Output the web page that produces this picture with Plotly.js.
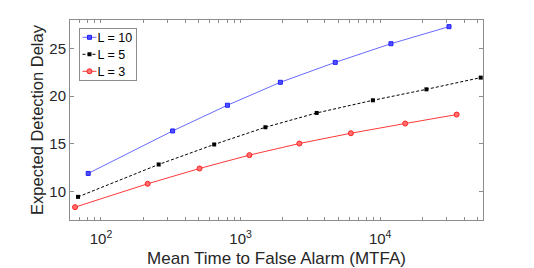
<!DOCTYPE html>
<html><head><meta charset="utf-8">
<script src="https://cdn.plot.ly/plotly-3.0.1.min.js"></script>
<style>html,body{margin:0;padding:0;background:#fff}#chart{width:534px;height:268px}</style>
</head><body><div id="chart"></div>
<script>
const seriesNames = ["L = 10", "L = 5", "L = 3"];
const mtfaL10 = [81, 326, 805, 1928, 4764, 11940, 31100];
const eddL10 = [11.89, 16.35, 19.05, 21.46, 23.55, 25.51, 27.30];
const mtfaL5 = [68.5, 259, 647, 1506, 3508, 8870, 21430, 52500];
const eddL5 = [9.43, 12.83, 14.93, 16.74, 18.24, 19.57, 20.72, 21.95];
const mtfaL3 = [65.2, 216, 508, 1156, 2636, 6166, 15100, 35300];
const eddL3 = [8.35, 10.80, 12.41, 13.81, 15.03, 16.11, 17.13, 18.07];
const yTickVals = [10, 15, 20, 25];
const decadeExps = [1, 2, 3, 4];
const tickSteps = [1, 2, 3, 4, 5, 6, 7, 8, 9];
const xTickVals = [];
const xTickText = [];
decadeExps.forEach(e => tickSteps.forEach(m => {
  xTickVals.push(m * Math.pow(10, e));
  xTickText.push(m === 1 ? "10<sup>" + e + "</sup>" : "");
}));

const font = "Liberation Sans, Arial, Helvetica, sans-serif";
const xRange = [Math.log10(60), Math.log10(54500)];
const traces = [
  {x: mtfaL10, y: eddL10, name: seriesNames[0], mode: "lines+markers",
   line: {color: "#6a6aff", width: 1}, marker: {symbol: "square", size: 4, color: "#5050ff", line: {width: 1, color: "#2020ff"}}},
  {x: mtfaL5, y: eddL5, name: seriesNames[1], mode: "lines+markers",
   line: {color: "#000000", width: 1, dash: "3px,2px"}, marker: {symbol: "square", size: 4, color: "#000000"}},
  {x: mtfaL3, y: eddL3, name: seriesNames[2], mode: "lines+markers",
   line: {color: "#ff3a3a", width: 1}, marker: {symbol: "circle", size: 5, color: "#ff7070", line: {width: 1, color: "#ff2020"}}}
];
const axisCommon = {
  showgrid: false, zeroline: false, showline: true, linecolor: "#8c8c8c", linewidth: 1,
  mirror: "allticks", ticks: "inside", ticklen: 4, tickcolor: "#8c8c8c",
  tickfont: {family: font, size: 15, color: "#262626"}
};
const layout = {
  width: 534, height: 268,
  margin: {l: 69.5, r: 51, t: 19.5, b: 48},
  paper_bgcolor: "#fff", plot_bgcolor: "#fff",
  showlegend: true,
  legend: {x: 0.023, y: 0.961, xanchor: "left", yanchor: "top", bgcolor: "#fff",
    bordercolor: "#8c8c8c", borderwidth: 1, font: {family: font, size: 12.5, color: "#000"},
    tracegroupgap: 0, itemwidth: 30},
  xaxis: Object.assign({}, axisCommon, {
    type: "log", range: xRange,
    tickmode: "array", tickvals: xTickVals, ticktext: xTickText, ticklen: 3,
    ticklabelstandoff: 5,
    title: {text: "Mean Time to False Alarm (MTFA)", font: {family: font, size: 17, color: "#262626"}, standoff: 7}
  }),
  yaxis: Object.assign({}, axisCommon, {
    range: [7, 28], tickvals: yTickVals,
    title: {text: "Expected Detection Delay", font: {family: font, size: 16.5, color: "#262626"}, standoff: 1}
  })
};
Plotly.newPlot("chart", traces, layout, {displayModeBar: false, staticPlot: true}).then(gd => {
  // compact MATLAB-style legend: short line samples, tight box
  const leg = gd.querySelector(".legend");
  if (!leg) return;
  const items = leg.querySelectorAll(".traces");
  let maxW = 0;
  items.forEach((t, i) => {
    t.setAttribute("transform", "translate(1," + (9.5 + i * 17) + ")");
    t.querySelectorAll(".legendlines path").forEach(p => p.setAttribute("d", "M2,0h14"));
    t.querySelectorAll(".legendpoints path").forEach(p => p.setAttribute("transform", "translate(9,0)"));
    const txt = t.querySelector("text.legendtext");
    if (txt) {
      txt.setAttribute("x", 17);
      maxW = Math.max(maxW, txt.getComputedTextLength());
    }
  });
  const bg = leg.querySelector("rect.bg");
  if (bg) { bg.setAttribute("width", 17 + maxW + 5); bg.setAttribute("height", 52); }
});
</script></body></html>
